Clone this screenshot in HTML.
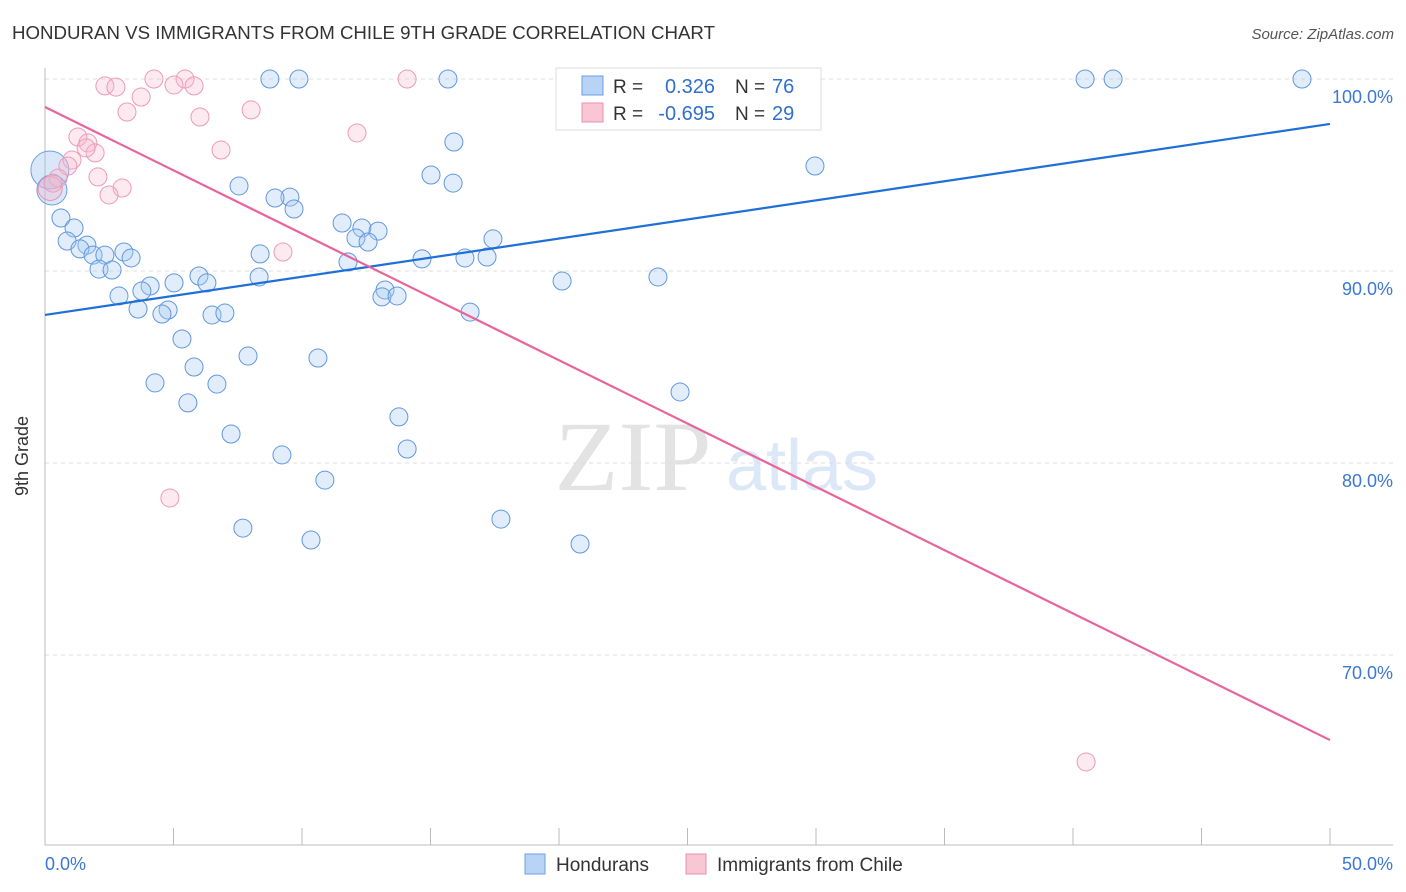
<!DOCTYPE html>
<html><head><meta charset="utf-8"><style>
body{margin:0;background:#fff;font-family:"Liberation Sans",sans-serif;}
svg{display:block}
</style></head><body>
<svg id="chart" width="1406" height="892" xmlns="http://www.w3.org/2000/svg">
<text x="12" y="39" font-size="18.5" fill="#333" textLength="703" lengthAdjust="spacingAndGlyphs">HONDURAN VS IMMIGRANTS FROM CHILE 9TH GRADE CORRELATION CHART</text>
<text x="1394" y="39" font-size="15" fill="#555" text-anchor="end" font-style="italic">Source: ZipAtlas.com</text>
<g><text x="633" y="490" font-size="100" fill="#e3e3e3" text-anchor="middle" font-family="Liberation Serif,serif" textLength="157" lengthAdjust="spacingAndGlyphs">ZIP</text><text x="802" y="490" font-size="72" fill="#dce8f8" text-anchor="middle">atlas</text></g>
<g id="grid"></g>
<g id="axes"></g>
<g id="pts"></g>
<g id="lines"></g>
<text x="28" y="456" font-size="18" fill="#333" text-anchor="middle" transform="rotate(-90 28 456)">9th Grade</text>
<g>
<rect x="556" y="68" width="265" height="62" fill="#fff" stroke="#ddd"/>
<rect x="582" y="76" width="21" height="19" fill="#b8d3f5" stroke="#6a9fe3"/>
<rect x="582" y="103" width="21" height="19" fill="#f9c6d6" stroke="#ec8fae"/>
<text x="613" y="93" font-size="19" fill="#333">R =</text><text x="715" y="93" font-size="20" fill="#2f6fd0" text-anchor="end">0.326</text>
<text x="735" y="93" font-size="19" fill="#333">N =</text><text x="772" y="93" font-size="20" fill="#2f6fd0">76</text>
<text x="613" y="120" font-size="19" fill="#333">R =</text><text x="715" y="120" font-size="20" fill="#2f6fd0" text-anchor="end">-0.695</text>
<text x="735" y="120" font-size="19" fill="#333">N =</text><text x="772" y="120" font-size="20" fill="#2f6fd0">29</text>
</g>
<g>
<rect x="525" y="854" width="20" height="20" fill="#b8d3f5" stroke="#6a9fe3"/>
<text x="556" y="871" font-size="19" fill="#333">Hondurans</text>
<rect x="686" y="854" width="20" height="20" fill="#f9c6d6" stroke="#ec8fae"/>
<text x="717" y="871" font-size="19" fill="#333">Immigrants from Chile</text>
</g>
</svg>
<script>
const blueX=[8.75,9.88,15.68,40.47,41.56,48.91,25.02,27.4,28.13,15.91,29.96,15.02,7.55,15.88,9.53,8.95,9.69,0.62,1.13,11.56,12.33,12.96,12.10,12.57,17.43,0.86,1.63,1.36,3.07,1.87,2.33,3.35,8.37,11.79,14.67,16.34,17.2,2.10,2.61,5.99,8.33,23.85,20.12,6.30,5.02,4.09,3.77,2.88,13.23,13.11,13.70,3.62,4.79,4.55,6.50,7.0,16.54,5.33,7.90,10.62,5.80,4.28,6.69,24.71,5.56,13.77,7.24,14.09,9.22,10.89,17.74,7.70,20.82,10.35];
const blueY=[100,100,100,100,100,100,100,100,100,96.72,95.47,95.0,94.43,94.58,93.85,93.8,93.23,92.76,92.24,92.5,92.24,92.08,91.72,91.51,91.67,91.56,91.35,91.15,90.99,90.83,90.83,90.68,90.89,90.47,90.63,90.68,90.73,90.10,90.05,89.74,89.69,89.69,89.48,89.38,89.38,89.22,88.96,88.70,89.01,88.65,88.70,88.02,87.97,87.76,87.71,87.81,87.86,86.46,85.57,85.47,85.0,84.17,84.11,83.70,83.13,82.40,81.51,80.73,80.42,79.11,77.08,76.61,75.78,75.99];
const blueBigX=[0.19,0.27];
const blueBigY=[95.26,94.22];
const pinkX=[2.33,2.76,4.24,5.45,5.80,5.02,3.74,14.09,3.19,6.03,8.02,12.14,6.85,1.28,1.67,1.95,1.60,1.05,0.89,2.06,0.51,0.31,3.0,2.49,9.26,4.86,40.51];
const pinkY=[99.64,99.58,100,100,99.64,99.69,99.06,100,98.28,98.02,98.39,97.19,96.30,96.98,96.67,96.15,96.41,95.78,95.47,94.90,94.84,94.58,94.32,93.96,90.99,78.18,64.43];
const pinkBigX=[0.2];
const pinkBigY=[94.3];
const blueTrend=[87.71,97.66];
const pinkTrend=[98.54,65.57];
const yTicks=[100,90,80,70];
const yTickLabels=["100.0%","90.0%","80.0%","70.0%"];
const xTicks=[0,5,10,15,20,25,30,35,40,45,50];
const xLabels=["0.0%","50.0%"];
const NS="http://www.w3.org/2000/svg";
const sx=v=>45+v*25.7;
const sy=v=>79+(100-v)*19.2;
function mk(tag,attrs,parent){const e=document.createElementNS(NS,tag);for(const k in attrs)e.setAttribute(k,attrs[k]);document.getElementById(parent).appendChild(e);return e;}
yTicks.forEach((t,i)=>{
 const l=mk('line',{x1:45,x2:1393,y1:sy(t),y2:sy(t),stroke:'#ddd','stroke-dasharray':'4 4'},'grid');
 
 
 const tx=mk('text',{x:1393,y:sy(t)+24,'font-size':18,fill:'#3b77d4','text-anchor':'end'},'grid');
 tx.textContent=yTickLabels[i];
 
 
});
const ax=mk('line',{x1:45,x2:45,y1:68,y2:845,stroke:'#bbb'},'axes');


const bx=mk('line',{x1:45,x2:1393,y1:845,y2:845,stroke:'#bbb'},'axes');


xTicks.forEach(t=>{
 const l=mk('line',{x1:sx(t),x2:sx(t),y1:828,y2:845,stroke:'#bbb'},'axes');
 
 
});
const xl0=mk('text',{x:45,y:870,'font-size':18,fill:'#3b77d4'},'axes');xl0.textContent=xLabels[0];


const xl1=mk('text',{x:1393,y:870,'font-size':18,fill:'#3b77d4','text-anchor':'end'},'axes');xl1.textContent=xLabels[1];


function dots(X,Y,r,fill,stroke,name){X.forEach((x,i)=>{
 const rr=Array.isArray(r)?r[i]:r;
 const c=mk('circle',{cx:sx(x),cy:sy(Y[i]),r:rr,fill:fill,stroke:stroke,'stroke-width':1},'pts');
 
 
});}
dots(blueBigX,blueBigY,[19,15],'rgba(160,196,240,0.4)','#6a9fe3','honduran-point');
dots(pinkBigX,pinkBigY,12,'rgba(245,175,200,0.3)','#ec8fae','chile-point');
dots(pinkX,pinkY,9,'rgba(248,185,205,0.3)','#ee9ab6','chile-point');
dots(blueX,blueY,9,'rgba(170,202,242,0.35)','#6197e0','honduran-point');
const bl=mk('line',{x1:sx(0),y1:sy(blueTrend[0]),x2:sx(50),y2:sy(blueTrend[1]),stroke:'#1f6fd6','stroke-width':2.2},'lines');


const pl=mk('line',{x1:sx(0),y1:sy(pinkTrend[0]),x2:sx(50),y2:sy(pinkTrend[1]),stroke:'#e8649a','stroke-width':2.2},'lines');


</script>
</body></html>
